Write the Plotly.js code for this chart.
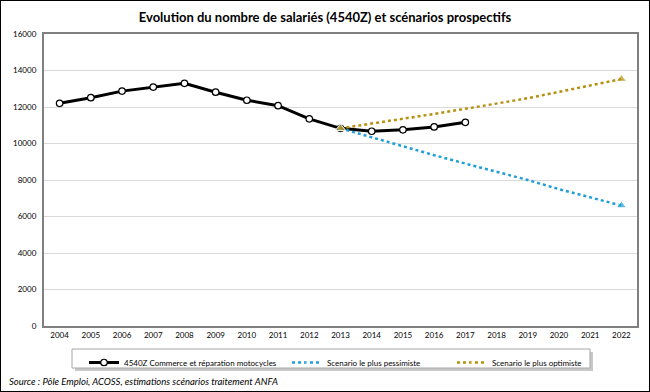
<!DOCTYPE html>
<html><head><meta charset="utf-8">
<script src="https://cdn.plot.ly/plotly-3.0.1.min.js"></script>
<style>
html,body{margin:0;padding:0;background:#fff;}
#wrap{position:relative;width:650px;height:392px;}
#chart{width:650px;height:392px;}
#frame{position:absolute;left:0;top:0;width:648px;height:390px;border:1px solid #000;pointer-events:none;}
</style></head>
<body>
<div id="wrap"><div id="chart"></div><div id="frame"></div></div>
<script>
const years = ['2004','2005','2006','2007','2008','2009','2010','2011','2012','2013','2014','2015','2016','2017','2018','2019','2020','2021','2022'];
const histYears = ['2004','2005','2006','2007','2008','2009','2010','2011','2012','2013','2014','2015','2016','2017'];
const histValues = [12200,12510,12870,13090,13300,12810,12370,12070,11350,10830,10670,10750,10910,11160];
const scenYears = ['2013','2014','2015','2016','2017','2018','2019','2020','2021','2022'];
const pessValues = [10830,10330,9840,9360,8900,8450,8000,7500,7050,6600];
const optiValues = [10830,11080,11350,11620,11900,12190,12480,12830,13180,13530];
const seriesNames = ['4540Z Commerce et réparation motocycles','Scenario le plus pessimiste','Scenario le plus optimiste'];
const titleText = 'Evolution du nombre de salariés (4540Z) et scénarios prospectifs';
const sourceText = 'Source : Pôle Emploi, ACOSS, estimations scénarios traitement ANFA';

const endMarkers = scenYears.map((y,i)=> (i===0||i===scenYears.length-1)?9:0);
const FONT = 'Lato, "Open Sans", sans-serif';

const traces = [
  {x:histYears, y:histValues, name:seriesNames[0], type:'scatter', mode:'lines+markers', legend:'legend',
   line:{color:'#000', width:3},
   marker:{symbol:'circle', size:6.5, color:'#fff', line:{color:'#000', width:1.2}}},
  {x:scenYears, y:pessValues, name:seriesNames[1], type:'scatter', mode:'lines+markers', legend:'legend2',
   line:{color:'#1F9FD6', width:2.5, dash:'dot'},
   marker:{symbol:'triangle-up', size:endMarkers, color:'#1F9FD6'}},
  {x:scenYears, y:optiValues, name:seriesNames[2], type:'scatter', mode:'lines+markers', legend:'legend3',
   line:{color:'#B8900F', width:2.5, dash:'dot'},
   marker:{symbol:'triangle-up', size:endMarkers, color:'#B8900F'}}
];

// plot area: left 44, width 593; top 34, height 292
const px = v => (v-44)/593;
const py = v => (326-v)/292;
const legBase = {orientation:'h', xanchor:'left', y:py(348), yanchor:'top',
  borderwidth:0, bgcolor:'rgba(0,0,0,0)', font:{size:8, family:FONT}, itemwidth:30};

const layout = {
  width:650, height:392,
  margin:{l:44, r:13, t:34, b:66},
  paper_bgcolor:'#fff', plot_bgcolor:'#fff',
  font:{family:FONT, size:8, color:'#000'},
  title:{text:'<b>'+titleText+'</b>', font:{family:FONT, size:13, color:'#000'}, x:0.5, xanchor:'center', y:0.955, yanchor:'middle'},
  xaxis:{type:'category', categoryarray:years, categoryorder:'array', range:[-0.5,18.5],
    showline:true, mirror:true, linecolor:'#808080', linewidth:2, showgrid:false,
    ticks:'', tickfont:{size:8, family:FONT}, fixedrange:true},
  yaxis:{range:[0,16000], dtick:2000, tickformat:'d', showline:true, mirror:true, linecolor:'#808080', linewidth:2,
    gridcolor:'#d9d9d9', gridwidth:1, zeroline:false, ticks:'', ticksuffix:'  ',
    tickfont:{size:8, family:FONT}, fixedrange:true},
  showlegend:true,
  legend:Object.assign({}, legBase, {x:px(84)}),
  legend2:Object.assign({}, legBase, {x:px(287)}),
  legend3:Object.assign({}, legBase, {x:px(452)}),
  shapes:[
    {type:'rect', xref:'paper', yref:'paper', x0:px(75), x1:px(593), y0:py(352), y1:py(371), fillcolor:'#c8c8c8', line:{width:0}, layer:'above'},
    {type:'rect', xref:'paper', yref:'paper', x0:px(72), x1:px(590), y0:py(349), y1:py(368), fillcolor:'#fff', line:{color:'#a6a6a6', width:1}, layer:'above'}
  ],
  annotations:[{text:'<i>'+sourceText+'</i>', xref:'paper', yref:'paper', x:px(7), y:py(382),
    xanchor:'left', yanchor:'middle', showarrow:false, font:{size:9.5, family:FONT, color:'#000'}}]
};
Plotly.newPlot('chart', traces, layout, {displayModeBar:false, staticPlot:true});
</script>
</body></html>
